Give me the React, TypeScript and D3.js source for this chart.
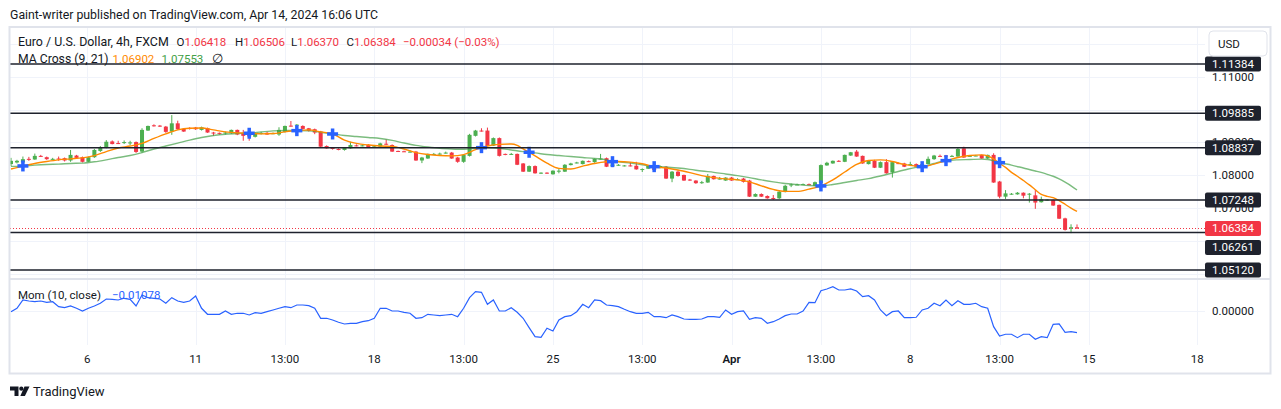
import React from 'react'
import * as d3 from 'd3'

const W = 1281
const H = 409

// EURUSD 4h candles, bar 0 .. 179
const opens = [
  1.0834, 1.0839, 1.0839, 1.0850, 1.0848, 1.0859, 1.0855, 1.0849, 1.0851, 1.0852,
  1.0845, 1.0860, 1.0855, 1.0841, 1.0855, 1.0874, 1.0884, 1.0903, 1.0898, 1.0899,
  1.0898, 1.0901, 1.0872, 1.0936, 1.0952, 1.0951, 1.0948, 1.0933, 1.0958, 1.0941,
  1.0944, 1.0945, 1.0938, 1.0943, 1.0930, 1.0929, 1.0928, 1.0928, 1.0938, 1.0928,
  1.0932, 1.0917, 1.0927, 1.0929, 1.0927, 1.0924, 1.0932, 1.0951, 1.0951, 1.0950,
  1.0943, 1.0940, 1.0933, 1.0889, 1.0884, 1.0880, 1.0877, 1.0882, 1.0891, 1.0889,
  1.0893, 1.0888, 1.0887, 1.0896, 1.0892, 1.0874, 1.0873, 1.0871, 1.0872, 1.0845,
  1.0851, 1.0864, 1.0865, 1.0867, 1.0869, 1.0854, 1.0841, 1.0859, 1.0920, 1.0936,
  1.0936, 1.0890, 1.0913, 1.0865, 1.0864, 1.0865, 1.0836, 1.0811, 1.0828, 1.0806,
  1.0808, 1.0803, 1.0812, 1.0811, 1.0831, 1.0837, 1.0834, 1.0843, 1.0840, 1.0850,
  1.0852, 1.0827, 1.0830, 1.0829, 1.0830, 1.0829, 1.0817, 1.0820, 1.0831, 1.0823,
  1.0826, 1.0790, 1.0811, 1.0801, 1.0787, 1.0784, 1.0778, 1.0778, 1.0798, 1.0789,
  1.0784, 1.0793, 1.0787, 1.0790, 1.0784, 1.0735, 1.0743, 1.0737, 1.0731, 1.0730,
  1.0749, 1.0771, 1.0771, 1.0772, 1.0773, 1.0768, 1.0776, 1.0830, 1.0836, 1.0844,
  1.0841, 1.0860, 1.0872, 1.0859, 1.0834, 1.0844, 1.0823, 1.0840, 1.0809, 1.0837,
  1.0836, 1.0833, 1.0834, 1.0824, 1.0834, 1.0849, 1.0859, 1.0860, 1.0858, 1.0857,
  1.0882, 1.0858, 1.0859, 1.0862, 1.0851, 1.0862, 1.0781, 1.0735, 1.0742, 1.0742,
  1.0747, 1.0742, 1.0739, 1.0718, 1.0724, 1.0725, 1.0710, 1.0669, 1.0638, 1.06418,
]
const highs = [
  1.0853, 1.0847, 1.0857, 1.0856, 1.0866, 1.0862, 1.0857, 1.0853, 1.0857, 1.0854,
  1.0877, 1.0862, 1.0857, 1.0857, 1.0880, 1.0889, 1.0907, 1.0906, 1.0905, 1.0906,
  1.0905, 1.0903, 1.0943, 1.0951, 1.0955, 1.0953, 1.0950, 1.0983, 1.0966, 1.0942,
  1.0946, 1.0947, 1.0948, 1.0945, 1.0932, 1.0930, 1.0933, 1.0939, 1.0939, 1.0938,
  1.0936, 1.0930, 1.0932, 1.0932, 1.0930, 1.0946, 1.0951, 1.0965, 1.0956, 1.0952,
  1.0944, 1.0942, 1.0935, 1.0891, 1.0886, 1.0882, 1.0886, 1.0902, 1.0894, 1.0893,
  1.0895, 1.0892, 1.0899, 1.0909, 1.0894, 1.0875, 1.0875, 1.0876, 1.0874, 1.0856,
  1.0866, 1.0868, 1.0869, 1.0872, 1.0871, 1.0856, 1.0863, 1.0926, 1.0938, 1.0943,
  1.0945, 1.0915, 1.0915, 1.0866, 1.0868, 1.0866, 1.0837, 1.0830, 1.0830, 1.0809,
  1.0809, 1.0815, 1.0820, 1.0834, 1.0838, 1.0841, 1.0845, 1.0845, 1.0851, 1.0865,
  1.0854, 1.0836, 1.0834, 1.0831, 1.0840, 1.0841, 1.0821, 1.0831, 1.0834, 1.0830,
  1.0828, 1.0813, 1.0815, 1.0802, 1.0789, 1.0785, 1.0783, 1.0804, 1.0799, 1.0795,
  1.0794, 1.0795, 1.0791, 1.0792, 1.0786, 1.0745, 1.0745, 1.0739, 1.0740, 1.0752,
  1.0771, 1.0775, 1.0774, 1.0775, 1.0775, 1.0781, 1.0833, 1.0841, 1.0845, 1.0846,
  1.0863, 1.0871, 1.0877, 1.0860, 1.0845, 1.0847, 1.0842, 1.0849, 1.0841, 1.0839,
  1.0838, 1.0841, 1.0836, 1.0836, 1.0857, 1.0862, 1.0863, 1.0862, 1.0862, 1.0883,
  1.0887, 1.0861, 1.0862, 1.0863, 1.0863, 1.0867, 1.0783, 1.0755, 1.0746, 1.0749,
  1.0748, 1.0746, 1.0755, 1.0735, 1.0727, 1.0726, 1.0711, 1.0671, 1.0651, 1.06506,
]
const lows = [
  1.0828, 1.0836, 1.0836, 1.0844, 1.0847, 1.0856, 1.0847, 1.0847, 1.0844, 1.0842,
  1.0841, 1.0850, 1.0839, 1.0840, 1.0853, 1.0871, 1.0882, 1.0894, 1.0895, 1.0895,
  1.0892, 1.0868, 1.0869, 1.0935, 1.0948, 1.0947, 1.0929, 1.0923, 1.0938, 1.0932,
  1.0939, 1.0938, 1.0936, 1.0929, 1.0920, 1.0924, 1.0924, 1.0926, 1.0922, 1.0905,
  1.0905, 1.0915, 1.0924, 1.0923, 1.0925, 1.0920, 1.0930, 1.0948, 1.0950, 1.0939,
  1.0933, 1.0925, 1.0885, 1.0881, 1.0878, 1.0876, 1.0875, 1.0881, 1.0888, 1.0888,
  1.0883, 1.0886, 1.0886, 1.0892, 1.0871, 1.0871, 1.0871, 1.0869, 1.0844, 1.0837,
  1.0850, 1.0862, 1.0863, 1.0866, 1.0850, 1.0838, 1.0838, 1.0857, 1.0918, 1.0933,
  1.0888, 1.0889, 1.0857, 1.0861, 1.0862, 1.0831, 1.0810, 1.0810, 1.0805, 1.0804,
  1.0804, 1.0802, 1.0806, 1.0810, 1.0830, 1.0836, 1.0833, 1.0840, 1.0838, 1.0848,
  1.0825, 1.0825, 1.0829, 1.0827, 1.0827, 1.0817, 1.0810, 1.0819, 1.0815, 1.0821,
  1.0789, 1.0779, 1.0796, 1.0783, 1.0783, 1.0774, 1.0774, 1.0777, 1.0787, 1.0787,
  1.0783, 1.0783, 1.0786, 1.0778, 1.0734, 1.0734, 1.0734, 1.0729, 1.0725, 1.0728,
  1.0748, 1.0764, 1.0770, 1.0771, 1.0770, 1.0767, 1.0774, 1.0829, 1.0835, 1.0841,
  1.0840, 1.0859, 1.0856, 1.0835, 1.0833, 1.0822, 1.0822, 1.0805, 1.0793, 1.0834,
  1.0825, 1.0831, 1.0825, 1.0823, 1.0833, 1.0847, 1.0857, 1.0856, 1.0856, 1.0856,
  1.0853, 1.0857, 1.0858, 1.0850, 1.0850, 1.0777, 1.0730, 1.0728, 1.0741, 1.0741,
  1.0730, 1.0717, 1.0698, 1.0717, 1.0723, 1.0707, 1.0667, 1.0632, 1.0624, 1.06370,
]
const closes = [
  1.0844, 1.0844, 1.0849, 1.0847, 1.0859, 1.0857, 1.0849, 1.0850, 1.0850, 1.0845,
  1.0862, 1.0853, 1.0841, 1.0855, 1.0877, 1.0885, 1.0902, 1.0895, 1.0896, 1.0901,
  1.0900, 1.0871, 1.0938, 1.0950, 1.0950, 1.0949, 1.0932, 1.0958, 1.0940, 1.0933,
  1.0942, 1.0940, 1.0946, 1.0930, 1.0929, 1.0927, 1.0930, 1.0938, 1.0924, 1.0920,
  1.0918, 1.0928, 1.0929, 1.0924, 1.0928, 1.0938, 1.0950, 1.0950, 1.0954, 1.0941,
  1.0935, 1.0930, 1.0887, 1.0882, 1.0880, 1.0878, 1.0884, 1.0892, 1.0889, 1.0891,
  1.0884, 1.0890, 1.0897, 1.0894, 1.0872, 1.0872, 1.0872, 1.0872, 1.0845, 1.0854,
  1.0865, 1.0865, 1.0866, 1.0869, 1.0851, 1.0841, 1.0862, 1.0923, 1.0936, 1.0935,
  1.0889, 1.0913, 1.0859, 1.0863, 1.0865, 1.0832, 1.0811, 1.0828, 1.0806, 1.0808,
  1.0806, 1.0814, 1.0814, 1.0832, 1.0836, 1.0839, 1.0844, 1.0841, 1.0850, 1.0851,
  1.0826, 1.0833, 1.0832, 1.0830, 1.0829, 1.0818, 1.0819, 1.0829, 1.0816, 1.0828,
  1.0790, 1.0811, 1.0798, 1.0784, 1.0785, 1.0776, 1.0779, 1.0798, 1.0788, 1.0790,
  1.0793, 1.0784, 1.0788, 1.0780, 1.0735, 1.0743, 1.0735, 1.0730, 1.0729, 1.0750,
  1.0768, 1.0772, 1.0772, 1.0773, 1.0772, 1.0779, 1.0831, 1.0838, 1.0844, 1.0843,
  1.0862, 1.0870, 1.0857, 1.0836, 1.0844, 1.0823, 1.0840, 1.0806, 1.0840, 1.0836,
  1.0826, 1.0834, 1.0826, 1.0834, 1.0850, 1.0860, 1.0858, 1.0858, 1.0859, 1.0880,
  1.0854, 1.0859, 1.0860, 1.0851, 1.0862, 1.0778, 1.0735, 1.0745, 1.0744, 1.0747,
  1.0738, 1.0744, 1.0717, 1.0727, 1.0726, 1.0708, 1.0668, 1.0634, 1.0642, 1.06384,
]

// MA Cross (9, 21) read at selected bars: [bar, value]
const ma9Points: [number, number][] = [
  [0, 1.0819], [2, 1.0828], [4, 1.0836], [6, 1.0842], [8, 1.0847], [10, 1.0850], [12, 1.0853],
  [14, 1.0860], [16, 1.0872], [18, 1.0883], [20, 1.0889], [22, 1.0897], [24, 1.0912], [26, 1.0926],
  [28, 1.0938], [30, 1.0943], [32, 1.0944], [34, 1.0938], [36, 1.0932], [38, 1.0929], [40, 1.0928],
  [42, 1.0926], [44, 1.0927], [46, 1.0932], [48, 1.0936], [50, 1.0938], [52, 1.0932], [54, 1.0926],
  [56, 1.0907], [58, 1.0897], [60, 1.0892], [62, 1.0889], [64, 1.0888], [66, 1.0880], [68, 1.0869],
  [70, 1.0863], [72, 1.0860], [74, 1.0859], [76, 1.0863], [78, 1.0878], [79, 1.0884], [80, 1.0889],
  [82, 1.0894], [84, 1.0895], [85, 1.0891], [86, 1.0880], [87, 1.0870], [88, 1.0859], [90, 1.0837],
  [92, 1.0821], [94, 1.0819], [96, 1.0828], [98, 1.0836], [100, 1.0841], [101, 1.0842], [102, 1.0842],
  [104, 1.0840], [106, 1.0835], [108, 1.0826], [110, 1.0822], [112, 1.0816], [114, 1.0808], [116, 1.0799],
  [118, 1.0793], [120, 1.0789], [122, 1.0786], [124, 1.0780], [126, 1.0768], [128, 1.0757], [130, 1.0751],
  [132, 1.0751], [134, 1.0758], [136, 1.0768], [138, 1.0786], [140, 1.0810], [142, 1.0833], [144, 1.0845],
  [146, 1.0847], [148, 1.0842], [150, 1.0833], [152, 1.0828], [153, 1.0826], [155, 1.0834], [157, 1.0844],
  [159, 1.0854], [161, 1.0860], [163, 1.0862], [164, 1.0859], [165, 1.0850], [166, 1.0836], [167, 1.0824],
  [168, 1.0809], [169, 1.0797], [170, 1.0784], [171, 1.0771], [172, 1.0756], [173, 1.0742], [174, 1.0736],
  [175, 1.0732], [176, 1.0723], [177, 1.0712], [178, 1.0700], [179, 1.06902],
]
const ma21Points: [number, number][] = [
  [0, 1.0827], [2, 1.0828], [4, 1.0831], [6, 1.0833], [8, 1.0834], [10, 1.0836], [12, 1.0837],
  [14, 1.0841], [16, 1.0847], [18, 1.0854], [20, 1.0860], [22, 1.0869], [24, 1.0880], [26, 1.0889],
  [28, 1.0898], [30, 1.0907], [32, 1.0915], [34, 1.0921], [36, 1.0925], [38, 1.0927], [40, 1.0928],
  [42, 1.0932], [44, 1.0935], [46, 1.0936], [48, 1.0936], [50, 1.0935], [52, 1.0931], [54, 1.0926],
  [56, 1.0921], [58, 1.0918], [60, 1.0915], [62, 1.0912], [64, 1.0906], [66, 1.0898], [68, 1.0891],
  [70, 1.0886], [72, 1.0882], [74, 1.0880], [76, 1.0879], [78, 1.0882], [79, 1.0884], [80, 1.0884],
  [82, 1.0882], [84, 1.0877], [86, 1.0872], [87, 1.0870], [88, 1.0868], [90, 1.0863], [92, 1.0860],
  [94, 1.0857], [96, 1.0854], [98, 1.0851], [100, 1.0847], [101, 1.0842], [102, 1.0841], [104, 1.0837],
  [106, 1.0832], [108, 1.0826], [110, 1.0825], [112, 1.0822], [114, 1.0818], [116, 1.0813], [118, 1.0809],
  [120, 1.0804], [122, 1.0799], [124, 1.0793], [126, 1.0786], [128, 1.0780], [130, 1.0775], [132, 1.0772],
  [134, 1.0769], [136, 1.0768], [138, 1.0772], [140, 1.0778], [142, 1.0784], [144, 1.0790], [146, 1.0798],
  [148, 1.0807], [150, 1.0816], [152, 1.0824], [153, 1.0826], [155, 1.0836], [157, 1.0844], [159, 1.0847],
  [161, 1.0848], [163, 1.0849], [164, 1.0848], [165, 1.0844], [166, 1.0839], [168, 1.0831], [170, 1.0822],
  [172, 1.0813], [174, 1.0803], [175, 1.0797], [176, 1.0789], [177, 1.0779], [178, 1.0768], [179, 1.07553],
]
// blue cross markers: [bar, price]
const crossPoints: [number, number][] = [
  [2, 1.08284], [40, 1.09278], [48, 1.09357], [54, 1.09256], [79, 1.0884], [87, 1.087],
  [101, 1.08414], [108, 1.08262], [136, 1.07676], [153, 1.08262], [157, 1.08445], [166, 1.08384],
]

// Mom (10, close)
const momValues = [
  -0.00035, 0.00134, 0.00546, 0.00497, 0.00462, 0.00497, 0.00432, 0.00462, 0.00214, 0.00164,
  0.00248, 0.00134, 0.0, 0.00134, 0.00248, 0.00383, 0.00596, 0.00581, 0.00546, 0.00631,
  0.00581, 0.00248, 0.00795, 0.00661, 0.00631, 0.00596, 0.00383, 0.00661, 0.00497, 0.00432,
  0.00497, 0.00745, 0.00134, -0.00164, -0.00164, -0.00164, 0.0, -0.00164, -0.00114, -0.00114,
  -0.00199, -0.00084, -0.00114, -0.00035, 0.0005, 0.00134, 0.00214, 0.00164, 0.00298, 0.00298,
  0.00263, 0.00134, -0.00363, -0.00363, -0.00447, -0.00561, -0.00646, -0.00611, -0.00611, -0.00532,
  -0.00482, -0.00363, 0.00134, 0.00134, 0.0, 0.0, -0.00065, -0.00114, -0.00363, -0.00333,
  -0.00164, -0.00199, -0.00233, -0.00199, -0.00164, -0.00283, 0.00134, 0.00661, 0.00959, 0.00929,
  0.00333, 0.00546, 0.0, 0.0, 0.00164, -0.00065, -0.00363, -0.0083, -0.01277, -0.01307,
  -0.00859, -0.00994, -0.00447, -0.00283, -0.00233, -0.00035, 0.00333, 0.00164, 0.00546, 0.00512,
  0.00298, 0.00263, 0.00214, 0.00084, -0.00035, -0.00114, -0.00114, -0.00065, -0.00283, -0.00283,
  -0.00333, -0.00199, -0.00283, -0.00397, -0.00412, -0.00412, -0.00397, -0.00283, -0.00283, -0.00313,
  0.0005, -0.00164, -0.00035, 0.0001, -0.00412, -0.00333, -0.00363, -0.00611, -0.00532, -0.00397,
  -0.00233, -0.00149, -0.00149, 0.0, 0.00432, 0.00412, 0.01008, 0.01093, 0.01207, 0.01043,
  0.01043, 0.01093, 0.00994, 0.0071, 0.0076, 0.00546, 0.0005, -0.00233, -0.00035, 0.0,
  -0.00333, -0.00333, -0.00313, 0.0005, 0.00134, 0.00383, 0.00263, 0.00546, 0.00263, 0.00512,
  0.00333, 0.00333, 0.00383, 0.00214, 0.00134, -0.0078, -0.01242, -0.01157, -0.01157, -0.01326,
  -0.01157, -0.01157, -0.01406, -0.01277, -0.01326, -0.00661, -0.00646, -0.01058, -0.01028, -0.01078,
]

const tickBars = [12.8, 31, 46, 61, 76, 91, 106, 121, 136, 151, 166, 181, 199.2]
const tickLabels = ['6', '11', '13:00', '18', '13:00', '25', '13:00', 'Apr', '13:00', '8', '13:00', '15', '18']
const priceTicks = [1.05, 1.06, 1.07, 1.08, 1.09, 1.1, 1.11, 1.12]
// only these grid prices show a label (the others sit under the level boxes / USD button)
const labeledTicks = [1.07, 1.08, 1.09, 1.11]
const levels = [1.11384, 1.09885, 1.08837, 1.07248, 1.06261, 1.0512]
const lastPrice = 1.06384

const FONT = 'Roboto, "Noto Sans", sans-serif'
const TXT = '#131722'
const UP = '#4caf50'
const DOWN = '#f23645'
const GRID = '#f0f3fa'
const BORDER = '#e0e3eb'

const paneL = 10
const paneR = 1205

export default function App() {
  const x = d3.scaleLinear().domain([0, 179]).range([11, 1077])
  const y = d3.scaleLinear().domain([1.0512, 1.11384]).range([270, 64])
  const ym = d3.scaleLinear().domain([-0.0169, 0.0149]).range([345, 281])

  const maLine = d3.line<[number, number]>()
    .x(d => x(d[0])).y(d => y(d[1]))
    .curve(d3.curveMonotoneX)
  const momLine = d3.line<number>().x((_, i) => x(i)).y(d => ym(d))

  // right axis label boxes, pushed down when they overlap
  const boxH = 15
  const boxes = [
    ...levels.map(v => ({ v, last: false })),
    { v: lastPrice, last: true },
  ].sort((a, b) => b.v - a.v)
  let prevBottom = -Infinity
  const placed = boxes.map(b => {
    let cy = y(b.v)
    if (cy - boxH / 2 < prevBottom + 4) cy = prevBottom + 4 + boxH / 2
    prevBottom = cy + boxH / 2
    return { ...b, cy }
  })

  const bw = 4

  return (
    <svg width={W} height={H} style={{ position: 'absolute', left: 0, top: 0, display: 'block' }}
      fontFamily={FONT}>
      <defs>
        <clipPath id="mainClip"><rect x={paneL} y={28} width={paneR - paneL} height={250} /></clipPath>
        <clipPath id="momClip"><rect x={paneL} y={280} width={paneR - paneL} height={65} /></clipPath>
      </defs>
      <rect width={W} height={H} fill="#fff" />

      <text x={10} y={18.5} fontSize={12.3} fill={TXT}>
        Gaint-writer published on TradingView.com, Apr 14, 2024 16:06 UTC
      </text>

      {/* grid */}
      {tickBars.map((b, i) => (
        <line key={'vg' + i} x1={Math.round(x(b)) + 0.5} x2={Math.round(x(b)) + 0.5} y1={28} y2={345}
          stroke={GRID} />
      ))}
      {priceTicks.map(v => (
        <line key={'hg' + v} x1={paneL} x2={paneR} y1={Math.round(y(v)) + 0.5} y2={Math.round(y(v)) + 0.5}
          stroke={GRID} />
      ))}
      <line x1={paneL} x2={paneR} y1={Math.round(ym(0)) + 0.5} y2={Math.round(ym(0)) + 0.5} stroke={GRID} />

      {/* candles */}
      <g clipPath="url(#mainClip)">
        {closes.map((c, i) => {
          const o = opens[i]
          const col = c >= o ? UP : DOWN
          const cx = x(i)
          const top = y(Math.max(o, c))
          const h = Math.max(1, Math.abs(y(o) - y(c)))
          return (
            <g key={'c' + i}>
              <line x1={cx} x2={cx} y1={y(highs[i])} y2={y(lows[i])} stroke={col} strokeWidth={1} />
              <rect x={cx - bw / 2} y={top} width={bw} height={h} fill={col} />
            </g>
          )
        })}
        <path d={maLine(ma21Points) || ''} fill="none" stroke="#43a047" strokeOpacity={0.7} strokeWidth={1.4} />
        <path d={maLine(ma9Points) || ''} fill="none" stroke="#ff8a00" strokeWidth={1.4} />
        {crossPoints.map(([b, v], i) => (
          <g key={'x' + i} stroke="#2962ff" strokeWidth={3.5}>
            <line x1={x(b) - 5.5} x2={x(b) + 5.5} y1={y(v)} y2={y(v)} />
            <line x1={x(b)} x2={x(b)} y1={y(v) - 5.5} y2={y(v) + 5.5} />
          </g>
        ))}
        {levels.map(v => (
          <line key={'lv' + v} x1={paneL} x2={paneR} y1={y(v)} y2={y(v)} stroke="#1e222d" strokeWidth={1.5} />
        ))}
        <line x1={paneL} x2={paneR} y1={Math.round(y(lastPrice)) + 0.5} y2={Math.round(y(lastPrice)) + 0.5}
          stroke={DOWN} strokeWidth={1} strokeDasharray="1,2" />
      </g>

      {/* momentum */}
      <g clipPath="url(#momClip)">
        <path d={momLine(momValues) || ''} fill="none" stroke="#2962ff" strokeWidth={1.2} />
      </g>

      {/* frame */}
      <line x1={9} x2={1271} y1={279} y2={279} stroke={BORDER} strokeWidth={2} />
      <rect x={9.5} y={27} width={1261} height={346.5} fill="none" stroke={BORDER} strokeWidth={2} />

      {/* time axis */}
      {tickBars.map((b, i) => (
        <text key={'tl' + i} x={x(b)} y={363} fontSize={11.5} fill={TXT} textAnchor="middle"
          fontWeight={tickLabels[i] === 'Apr' ? 600 : 400}>
          {tickLabels[i]}
        </text>
      ))}

      {/* price axis */}
      {labeledTicks.map(v => (
        <text key={'pl' + v} x={1233} y={y(v) + 4} fontSize={11.5} fill={TXT} textAnchor="middle">
          {v.toFixed(5)}
        </text>
      ))}
      <text x={1233} y={ym(0) + 4} fontSize={11.5} fill={TXT} textAnchor="middle">0.00000</text>
      {placed.map(b => (
        <g key={'bx' + b.v}>
          <rect x={1205} y={b.cy - boxH / 2} width={56} height={boxH} rx={2}
            fill={b.last ? DOWN : '#1e222d'} />
          <text x={1233} y={b.cy + 4} fontSize={11.5} fill="#fff" textAnchor="middle">{b.v.toFixed(5)}</text>
        </g>
      ))}
      <rect x={1209} y={31} width={58} height={25} rx={4} fill="#fff" stroke={BORDER} />
      <text x={1218} y={48} fontSize={11.5} fill={TXT}>USD</text>

      {/* legends */}
      <g fontSize={11.5}>
        <text x={18} y={46} fill={TXT} fontSize={12.4}>Euro / U.S. Dollar, 4h, FXCM</text>
        <text x={176.5} y={46} fill={TXT}>O<tspan fill={DOWN}>{opens[179].toFixed(5)}</tspan></text>
        <text x={235} y={46} fill={TXT}>H<tspan fill={DOWN}>{highs[179].toFixed(5)}</tspan></text>
        <text x={291} y={46} fill={TXT}>L<tspan fill={DOWN}>{lows[179].toFixed(5)}</tspan></text>
        <text x={346.5} y={46} fill={TXT}>C<tspan fill={DOWN}>{closes[179].toFixed(5)}</tspan></text>
        <text x={403} y={46} fill={DOWN}>−0.00034 (−0.03%)</text>
        <text x={18} y={63} fill={TXT} fontSize={12.2}>MA Cross (9, 21)</text>
        <text x={112.5} y={63} fill="#ff8a00">{ma9Points[ma9Points.length - 1][1].toFixed(5)}</text>
        <text x={161.5} y={63} fill="#43a047">{ma21Points[ma21Points.length - 1][1].toFixed(5)}</text>
        <text x={212} y={63} fill={TXT} fontSize={12.5}>∅</text>
        <text x={18} y={298.5} fill={TXT}>Mom (10, close)</text>
        <text x={112} y={298.5} fill="#2962ff">−{Math.abs(momValues[179]).toFixed(5)}</text>
      </g>

      {/* TradingView logo */}
      <g fill={TXT}>
        <path d="M10,386.5 h8.5 v9.5 h-4 v-5.5 h-4.5 z" />
        <circle cx={21.3} cy={388.7} r={2.1} />
        <path d="M24.5,386.5 h5 l-4.6,9.5 h-4.6 z" />
        <text x={33} y={395.5} fontSize={13}>TradingView</text>
      </g>
    </svg>
  )
}
